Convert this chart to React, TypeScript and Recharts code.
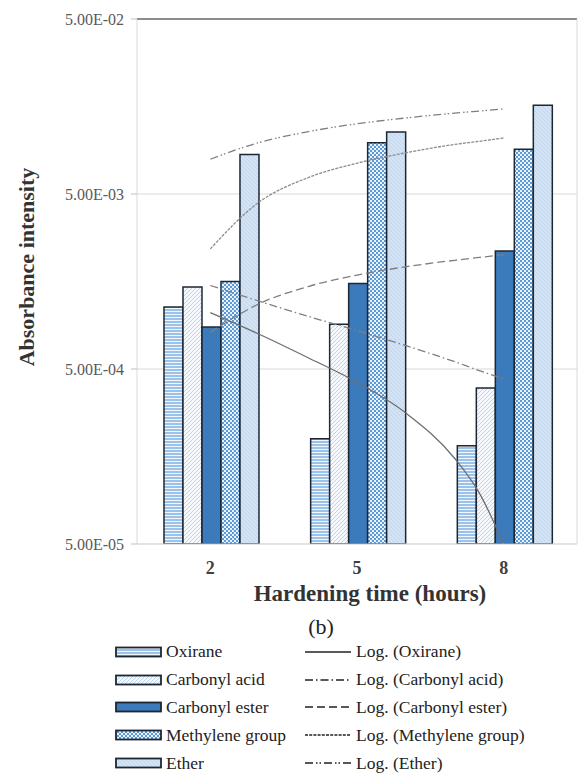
import React from "react";
import {
  ComposedChart,
  Bar,
  Line,
  XAxis,
  YAxis,
  CartesianGrid,
  ReferenceLine,
} from "recharts";

// values (log axis)
const hours = ["2", "5", "8"];
const oxirane = [1.13e-3, 2.0e-4, 1.82e-4];
const carbonylAcid = [1.47e-3, 9.0e-4, 3.9e-4];
const carbonylEster = [8.7e-4, 1.54e-3, 2.36e-3];
const methylene = [1.58e-3, 9.8e-3, 9.0e-3];
const ether = [8.4e-3, 1.13e-2, 1.61e-2];

const yTicks = [5e-5, 5e-4, 5e-3, 5e-2];
const yTickLabels = ["5.00E-05", "5.00E-04", "5.00E-03", "5.00E-02"];

// trend curves
const trendHours = [2, 3, 4, 5, 6, 7, 7.5, 8];
const oxiraneTrend = [1.05e-3, 7.9e-4, 5.8e-4, 4.2e-4, 2.8e-4, 1.54e-4, 9.8e-5, 5.0e-5];
const carbonylAcidTrend = [1.5e-3, 1.22e-3, 1.0e-3, 8.3e-4, 6.8e-4, 5.5e-4, 4.9e-4, 4.4e-4];
const carbonylEsterTrend = [8.1e-4, 1.18e-3, 1.48e-3, 1.72e-3, 1.92e-3, 2.09e-3, 2.17e-3, 2.25e-3];
const methyleneTrend = [2.43e-3, 4.5e-3, 6.2e-3, 7.5e-3, 8.6e-3, 9.6e-3, 1.0e-2, 1.045e-2];
const etherTrend = [7.9e-3, 9.85e-3, 1.135e-2, 1.26e-2, 1.36e-2, 1.45e-2, 1.49e-2, 1.53e-2];

const SERIF = '"Liberation Serif", Tinos, "DejaVu Serif", "Noto Serif", serif';

const series = [
  { key: "oxirane", name: "Oxirane", fill: "url(#pOx)", dash: undefined, trendColor: "#6e6e6e" },
  { key: "carbonylAcid", name: "Carbonyl acid", fill: "url(#pCa)", dash: "8 3 1.5 3", trendColor: "#7f7f7f" },
  { key: "carbonylEster", name: "Carbonyl ester", fill: "#3c7bbb", dash: "8 4", trendColor: "#7f7f7f" },
  { key: "methylene", name: "Methylene group", fill: "url(#pMe)", dash: "3 1.2", trendColor: "#8c8c8c" },
  { key: "ether", name: "Ether", fill: "url(#pEt)", dash: "8 3 1.5 2 1.5 3", trendColor: "#7f7f7f" },
];

const data = hours.map((h, i) => ({
  hours: h,
  oxirane: oxirane[i],
  carbonylAcid: carbonylAcid[i],
  carbonylEster: carbonylEster[i],
  methylene: methylene[i],
  ether: ether[i],
}));

const trendData = trendHours.map((h, i) => ({
  h,
  oxirane: oxiraneTrend[i],
  carbonylAcid: carbonylAcidTrend[i],
  carbonylEster: carbonylEsterTrend[i],
  methylene: methyleneTrend[i],
  ether: etherTrend[i],
}));

function Patterns() {
  return (
    <svg width={0} height={0} style={{ position: "absolute" }}>
      <defs>
        <pattern id="pOx" width="4" height="3" patternUnits="userSpaceOnUse">
          <rect width="4" height="3" fill="#9cc2ea" />
          <rect y="2" width="4" height="1" fill="#f2f7fd" />
        </pattern>
        <pattern id="pCa" width="4" height="4" patternUnits="userSpaceOnUse">
          <rect width="4" height="4" fill="#f5f9fd" />
          <path d="M0,4 L4,0" stroke="#bcd3ec" strokeWidth="1" />
        </pattern>
        <pattern id="pMe" width="4" height="4" patternUnits="userSpaceOnUse">
          <rect width="4" height="4" fill="#eaf3fc" />
          <rect width="2" height="2" fill="#5b9ad6" />
          <rect x="2" y="2" width="2" height="2" fill="#5b9ad6" />
        </pattern>
        <pattern id="pEt" width="4" height="4" patternUnits="userSpaceOnUse">
          <rect width="4" height="4" fill="#d4e3f3" />
          <path d="M0,0 L4,4" stroke="#c3d6ec" strokeWidth="1" />
        </pattern>
      </defs>
    </svg>
  );
}

function LegendBlock() {
  const rowH = 27.8;
  return (
    <div
      style={{
        position: "absolute",
        left: 115,
        top: 638,
        fontFamily: SERIF,
        fontSize: 17.5,
        color: "#222",
      }}
    >
      {series.map((s) => (
        <div key={s.key} style={{ display: "flex", alignItems: "center", height: rowH }}>
          <svg width={48} height={12} style={{ display: "block" }}>
            <rect x={1} y={1.5} width={45} height={9} fill={s.fill} stroke="#1c2733" strokeWidth={1.8} />
          </svg>
          <span style={{ marginLeft: 3, width: 139, whiteSpace: "nowrap" }}>{s.name}</span>
          <svg width={46} height={12} style={{ display: "block" }}>
            <line x1={0} y1={6} x2={46} y2={6} stroke="#222" strokeWidth={1.4} strokeDasharray={s.dash} />
          </svg>
          <span style={{ marginLeft: 5, whiteSpace: "nowrap" }}>Log. ({s.name})</span>
        </div>
      ))}
    </div>
  );
}

export default function App() {
  return (
    <div
      style={{
        position: "absolute",
        left: 0,
        top: 0,
        width: 579,
        height: 776,
        background: "#fff",
        overflow: "hidden",
      }}
    >
      <Patterns />
      <ComposedChart
        width={579}
        height={600}
        data={data}
        margin={{ top: 19, right: 2, bottom: 0, left: 0 }}
        barCategoryGap="18.4%"
        barGap={0}
      >
        <CartesianGrid vertical={false} stroke="#d9d9d9" />
        <XAxis
          dataKey="hours"
          height={56}
          axisLine={{ stroke: "#d9d9d9" }}
          tickLine={false}
          tickMargin={11}
          tick={{ fill: "#404040", fontSize: 18, fontWeight: 700, fontFamily: SERIF }}
        />
        <XAxis xAxisId="t" type="number" dataKey="h" domain={[0.5, 9.5]} allowDataOverflow hide />
        <YAxis
          scale="log"
          domain={[5e-5, 5e-2]}
          ticks={yTicks}
          interval={0}
          allowDataOverflow
          width={137}
          axisLine={{ stroke: "#d9d9d9" }}
          tickLine={{ stroke: "#bfbfbf" }}
          tickSize={6}
          tickMargin={7}
          tickFormatter={(v: number) => yTickLabels[yTicks.indexOf(v)] ?? ""}
          tick={{ fill: "#595959", fontSize: 16, fontFamily: SERIF }}
        />
        <ReferenceLine y={5e-2} stroke="#8c8c8c" strokeWidth={2} />
        <ReferenceLine xAxisId="t" x={9.5} stroke="#d9d9d9" />
        {series.map((s) => (
          <Bar
            key={s.key}
            dataKey={s.key}
            name={s.name}
            fill={s.fill}
            stroke="#1c2733"
            strokeWidth={1.5}
            isAnimationActive={false}
          />
        ))}
        {series.map((s) => (
          <Line
            key={"t-" + s.key}
            xAxisId="t"
            data={trendData}
            dataKey={s.key}
            type="monotone"
            stroke={s.trendColor}
            strokeWidth={1.3}
            strokeDasharray={s.dash}
            dot={false}
            activeDot={false}
            legendType="none"
            isAnimationActive={false}
          />
        ))}
      </ComposedChart>

      <div
        style={{
          position: "absolute",
          left: 27,
          top: 267,
          transform: "translate(-50%, -50%) rotate(-90deg)",
          fontFamily: SERIF,
          fontWeight: 700,
          fontSize: 22,
          color: "#333",
          whiteSpace: "nowrap",
        }}
      >
        Absorbance intensity
      </div>
      <div
        style={{
          position: "absolute",
          left: 370,
          top: 594,
          transform: "translate(-50%, -50%)",
          fontFamily: SERIF,
          fontWeight: 700,
          fontSize: 23,
          lineHeight: "24px",
          color: "#333",
          whiteSpace: "nowrap",
        }}
      >
        Hardening time (hours)
      </div>
      <div
        style={{
          position: "absolute",
          left: 321,
          top: 627,
          transform: "translate(-50%, -50%)",
          fontFamily: SERIF,
          fontSize: 22,
          lineHeight: "24px",
          color: "#222",
          whiteSpace: "nowrap",
        }}
      >
        (b)
      </div>
      <LegendBlock />
    </div>
  );
}
